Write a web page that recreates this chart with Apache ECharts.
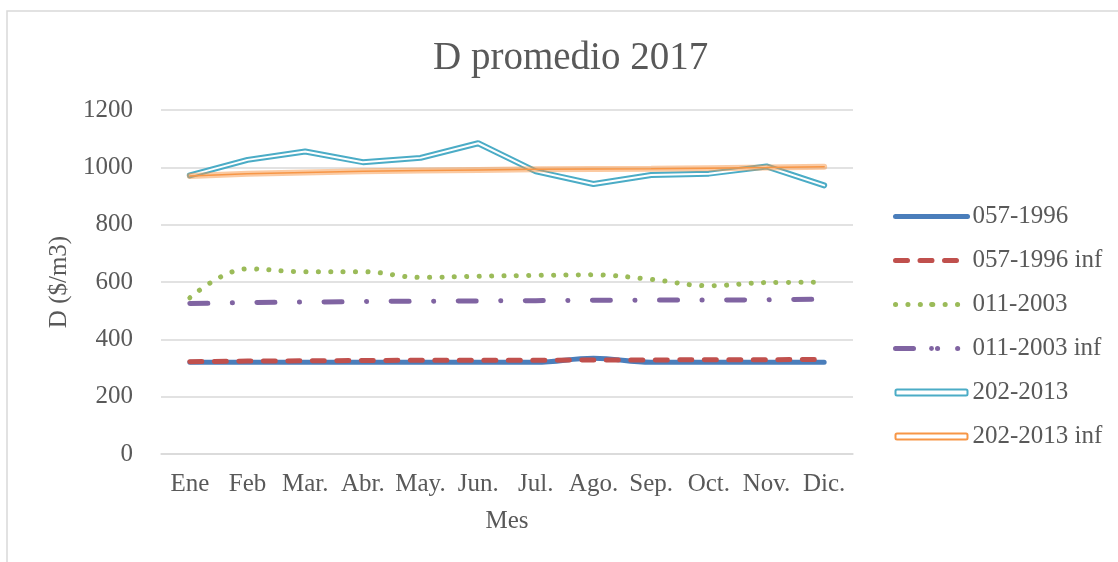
<!DOCTYPE html>
<html>
<head>
<meta charset="utf-8">
<script src="https://cdn.jsdelivr.net/npm/echarts@6/dist/echarts.min.js"></script>
<style>
  html, body { margin: 0; padding: 0; background: #fff; }
  #chart { width: 1118px; height: 562px; }
</style>
</head>
<body>
<div id="chart"></div>
<script>
// meses
var meses = ['Ene', 'Feb', 'Mar.', 'Abr.', 'May.', 'Jun.', 'Jul.', 'Ago.', 'Sep.', 'Oct.', 'Nov.', 'Dic.'];

// valores
var s057_1996 = [320, 320, 320, 320, 320, 320, 320, 334, 320, 320, 320, 320];
var s057_1996_inf = [322, 324, 325, 326, 327, 327, 327, 328, 328, 329, 329, 330];
var s011_2003 = [545, 646, 636, 636, 616, 620, 623, 625, 609, 587, 598, 599];
var s011_2003_inf = [525, 528, 530, 532, 533, 534, 535, 536, 537, 537, 538, 540];
var s202_2013 = [972, 1026, 1055, 1018, 1033, 1084, 986, 942, 973, 978, 1003, 937];
var s202_2013_inf = [970, 978, 982, 986, 989, 991, 993, 994, 995, 997, 999, 1002];

var yTicks = { min: 0, max: 1200, interval: 200 };

var fuente = 'Liberation Serif';
var gris = '#595959';

var myChart = echarts.init(document.getElementById('chart'));

myChart.setOption({
    animation: false,
    backgroundColor: '#fff',
    title: {
        text: 'D promedio 2017',
        left: 428,
        top: 34,
        textStyle: { fontFamily: fuente, fontSize: 39, fontWeight: 'normal', color: gris }
    },
    graphic: [{
        type: 'rect',
        shape: { x: 7, y: 11, width: 1200, height: 700 },
        style: { fill: 'none', stroke: '#d9d9d9', lineWidth: 1.5 },
        silent: true
    }],
    legend: {
        orient: 'vertical',
        left: 893,
        top: 204,
        padding: 0,
        itemWidth: 72,
        itemHeight: 6,
        itemGap: 19,
        textStyle: { fontFamily: fuente, fontSize: 25, color: gris },
        lineStyle: { width: 5 },
        data: [
            '057-1996',
            '057-1996 inf',
            '011-2003',
            { name: '011-2003 inf', lineStyle: { type: [18, 24, 0.1, 20, 0.1, 40] } },
            { name: '202-2013', icon: 'roundRect', itemStyle: { color: '#fff', borderColor: '#4BACC6', borderWidth: 2 } },
            { name: '202-2013 inf', icon: 'roundRect', itemStyle: { color: '#fff', borderColor: '#F79646', borderWidth: 2 } }
        ]
    },
    grid: { left: 161, right: 265, top: 110, bottom: 108 },
    xAxis: {
        type: 'category',
        data: meses,
        name: 'Mes',
        nameLocation: 'middle',
        nameGap: 55,
        nameTextStyle: { fontFamily: fuente, fontSize: 25, color: gris },
        axisLine: { lineStyle: { color: '#d9d9d9', width: 1.5 } },
        axisTick: { show: false },
        axisLabel: { fontFamily: fuente, fontSize: 25, color: gris, margin: 18, interval: 0 }
    },
    yAxis: {
        type: 'value',
        min: yTicks.min,
        max: yTicks.max,
        interval: yTicks.interval,
        name: 'D ($/m3)',
        nameLocation: 'middle',
        nameGap: 85,
        nameTextStyle: { fontFamily: fuente, fontSize: 25, color: gris },
        axisLine: { show: false },
        axisTick: { show: false },
        splitLine: { lineStyle: { color: '#d9d9d9', width: 1.5 } },
        axisLabel: {
            fontFamily: fuente, fontSize: 25, color: gris, margin: 28,
            formatter: function (v) { return String(v); }
        }
    },
    series: [
        {
            name: '057-1996', type: 'line', data: s057_1996, symbol: 'none', smooth: 0.4,
            itemStyle: { color: '#4A7EBB' },
            lineStyle: { color: '#4A7EBB', width: 5, cap: 'round' }
        },
        {
            name: '057-1996 inf', type: 'line', data: s057_1996_inf, symbol: 'none',
            itemStyle: { color: '#C0504D' },
            lineStyle: { color: '#C0504D', width: 5, type: [12, 12.5], cap: 'round' }
        },
        {
            name: '011-2003', type: 'line', data: s011_2003, symbol: 'none', smooth: 0.4,
            itemStyle: { color: '#9BBB59' },
            lineStyle: { color: '#9BBB59', width: 5, type: [0.1, 12.3], cap: 'round' }
        },
        {
            name: '011-2003 inf', type: 'line', data: s011_2003_inf, symbol: 'none',
            itemStyle: { color: '#8064A2' },
            lineStyle: { color: '#8064A2', width: 5, type: [18, 24.5, 0.1, 24.5], cap: 'round' }
        },
        {
            name: '202-2013', type: 'line', data: s202_2013, symbol: 'none',
            itemStyle: { color: '#4BACC6' },
            lineStyle: { color: '#4BACC6', width: 6, cap: 'round' }
        },
        {
            name: '202-2013 interior', type: 'line', data: s202_2013, symbol: 'none', silent: true,
            itemStyle: { color: '#fff' },
            lineStyle: { color: '#fff', width: 2, cap: 'round' }
        },
        {
            name: '202-2013 inf', type: 'line', data: s202_2013_inf, symbol: 'none',
            itemStyle: { color: '#F79646' },
            lineStyle: { color: '#F79646', width: 6, opacity: 0.5, cap: 'round' }
        },
        {
            name: '202-2013 inf interior', type: 'line', data: s202_2013_inf, symbol: 'none', silent: true,
            itemStyle: { color: '#F79646' },
            lineStyle: { color: '#F79646', width: 1.5, cap: 'round' }
        }
    ]
});
</script>
</body>
</html>
